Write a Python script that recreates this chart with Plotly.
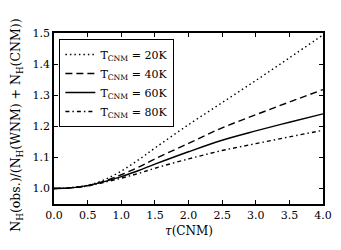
import plotly.graph_objects as go

tau = [0.0, 0.25, 0.5, 0.75, 1.0, 1.25, 1.5, 2.0, 2.5, 3.0, 3.5, 4.0]
ratio_20K = [1.000, 1.003, 1.010, 1.028, 1.056, 1.091, 1.130, 1.205, 1.276, 1.347, 1.420, 1.494]
ratio_40K = [1.000, 1.002, 1.009, 1.024, 1.044, 1.068, 1.095, 1.145, 1.195, 1.237, 1.278, 1.318]
ratio_60K = [1.000, 1.002, 1.009, 1.022, 1.038, 1.057, 1.078, 1.118, 1.155, 1.185, 1.213, 1.240]
ratio_80K = [1.000, 1.002, 1.008, 1.020, 1.033, 1.048, 1.065, 1.095, 1.122, 1.144, 1.166, 1.187]
labels = ["T<sub>CNM</sub> = 20K", "T<sub>CNM</sub> = 40K",
          "T<sub>CNM</sub> = 60K", "T<sub>CNM</sub> = 80K"]
dashes = ["1.5px,3px", "7px,4px", "solid", "4px,3px,1.5px,3px"]
x_ticks = [0.0, 0.5, 1.0, 1.5, 2.0, 2.5, 3.0, 3.5, 4.0]
y_ticks = [1.0, 1.1, 1.2, 1.3, 1.4, 1.5]
x_title = "<i>τ</i>(CNM)"
y_title = "N<sub>H</sub>(obs.)/(N<sub>H</sub>(WNM) + N<sub>H</sub>(CNM))"

font = "DejaVu Serif"
fig = go.Figure()
for ys, lab, d in zip([ratio_20K, ratio_40K, ratio_60K, ratio_80K], labels, dashes):
    fig.add_trace(go.Scatter(x=tau, y=ys, mode="lines", name=lab,
                             line=dict(color="black", width=1.4, dash=d, shape="spline")))

axis_common = dict(showline=True, linecolor="black", linewidth=1.5, mirror="ticks",
                   ticks="inside", ticklen=4, tickcolor="black", tickwidth=1,
                   showgrid=False, zeroline=False, automargin=False,
                   tickfont=dict(family=font, size=11, color="black"))
fig.update_xaxes(range=[0, 4], tickvals=x_ticks, ticktext=[f"{v:.1f}" for v in x_ticks],
                 **axis_common)
fig.update_yaxes(range=[0.95, 1.5], tickvals=y_ticks, ticktext=[f"{v:.1f}" for v in y_ticks],
                 **axis_common)
fig.add_annotation(text=x_title, xref="paper", yref="paper", x=0.5, y=-0.155,
                   xanchor="center", yanchor="middle", showarrow=False,
                   font=dict(family=font, size=12, color="black"))
fig.add_annotation(text=y_title, xref="paper", yref="paper", x=-0.14, y=0.46,
                   xanchor="center", yanchor="middle", showarrow=False, textangle=-90,
                   font=dict(family=font, size=12.5, color="black"))
fig.update_layout(
    width=333, height=242,
    margin=dict(l=46, r=18, t=25, b=46),
    paper_bgcolor="white", plot_bgcolor="white",
    legend=dict(x=0.02, y=0.965, xanchor="left", yanchor="top",
                bordercolor="black", borderwidth=1, bgcolor="white",
                font=dict(family=font, size=11, color="black"),
                tracegroupgap=0, itemwidth=30),
    showlegend=True,
)
fig.write_html("out.html")
